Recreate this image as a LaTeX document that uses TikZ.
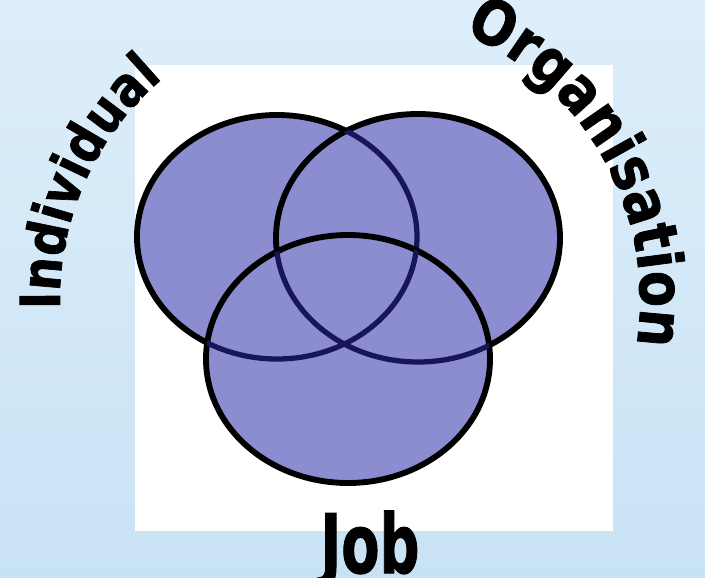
\documentclass[tikz,border=0pt]{standalone}
\usepackage{fontspec}
\usepackage{tikz}
\usetikzlibrary{decorations.text,calc}

\newfontfamily\vennfont[FakeStretch=0.85,FakeBold=1.2]{DejaVu Sans}

\definecolor{skyback}{RGB}{200,226,245}
\definecolor{skytop}{RGB}{222,238,250}
\definecolor{vennfill}{RGB}{140,140,208}
\definecolor{vennline}{RGB}{22,22,88}

\begin{document}
\begin{tikzpicture}[
    x=0.03cm, y=0.03cm,
    set/.style={
        fill=vennfill,
        draw=black,
        line width=5pt
    },
    hidden/.style={
        draw=vennline,
        line width=4.5pt
    },
    arclabel/.style={
        decorate,
        decoration={
            text along path,
            text align=center,
            text={#1}
        }
    }
]

% Background and white panel
\shade[top color=skytop, bottom color=skyback] (0, 0) rectangle (705, 577);
\useasboundingbox (0, 0) rectangle (705, 577);
\fill[white] (135, 46) rectangle (613, 512);

% Set centres
\coordinate (indiv) at (277, 340);
\coordinate (organ) at (418, 339);
\coordinate (job)   at (348, 218);
\coordinate (mid)   at (350, 277);

% Individual
\path[set] (indiv) ellipse [x radius=140, y radius=122];

% Organisation, lines below show through
\path[set] (organ) ellipse [x radius=142, y radius=124];
\begin{scope}
    \clip (organ) ellipse [x radius=142, y radius=124];
    \draw[hidden] (indiv) ellipse [x radius=140, y radius=122];
\end{scope}

% Job, on top
\path[set] (job) ellipse [x radius=142, y radius=124];
\begin{scope}
    \clip (job) ellipse [x radius=142, y radius=124];
    \draw[hidden] (indiv) ellipse [x radius=140, y radius=122];
    \draw[hidden] (organ) ellipse [x radius=142, y radius=124];
\end{scope}

% Labels round the diagram
\path[arclabel={|\vennfont\bfseries\fontsize{47}{47}\selectfont|Individual}]
    ($(mid)+(200:290)$) arc [start angle=200, end angle=112, radius=290];
\path[arclabel={|\vennfont\bfseries\fontsize{53}{53}\selectfont|Organisation}]
    ($(mid)+(84:290)$) arc [start angle=84, end angle=-26, radius=290];

\node[anchor=base, yscale=1.25, transform shape,
      font=\vennfont\bfseries\fontsize{56}{56}\selectfont] (joblabel) at (370, 4) {Job};

\end{tikzpicture}
\end{document}
